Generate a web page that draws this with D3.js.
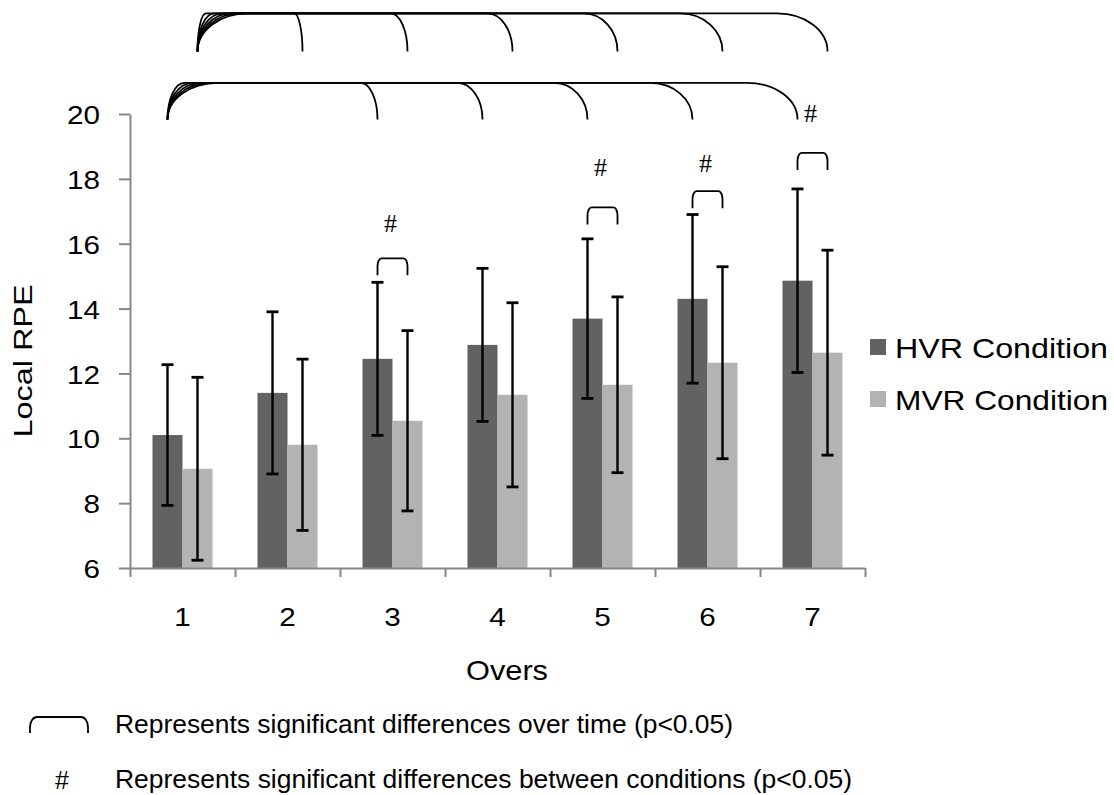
<!DOCTYPE html>
<html>
<head>
<meta charset="utf-8">
<script src="https://cdnjs.cloudflare.com/ajax/libs/d3/7.8.5/d3.min.js"></script>
<style>
    body { margin: 0; background: #fff; }
    text { font-family: 'Liberation Sans', Arial, sans-serif; fill: #000; }
</style>
</head>
<body>
<div id="chart-wrapper"></div>
<script>

// local RPE across overs, HVR vs MVR condition

var overs = ['1', '2', '3', '4', '5', '6', '7'];
var seriesNames = ['HVR Condition', 'MVR Condition'];

var hvrMean = [10.1, 11.4, 12.45, 12.88, 13.69, 14.3, 14.86];
var hvrSD   = [2.17, 2.5, 2.36, 2.36, 2.46, 2.6, 2.83];
var mvrMean = [9.06, 9.8, 10.54, 11.34, 11.65, 12.33, 12.64];
var mvrSD   = [2.82, 2.64, 2.78, 2.84, 2.71, 2.96, 3.16];

var yTicks = [6, 8, 10, 12, 14, 16, 18, 20];

// differences over time, each against over 1
var hvrTimeDiff = ['3', '4', '5', '6', '7'];
var mvrTimeDiff = ['2', '3', '4', '5', '6', '7'];
// bracket rows, in RPE units: [top, bottom]
var hvrTimeRow = [20.96, 19.83];
var mvrTimeRow = [23.1, 21.93];

// differences between conditions
var condDiff = ['3', '5', '6', '7'];
var condBracketTop = [15.55, 17.12, 17.62, 18.8];
var condHashLevel = [16.64, 18.37, 18.5, 20.02];

var noteTime = 'Represents significant differences over time (p<0.05)';
var noteCond = 'Represents significant differences between conditions (p<0.05)';

var width = 1114,
    height = 795;

var svg = d3.select('#chart-wrapper').append('svg')
    .attr('width', width)
    .attr('height', height);

var x = d3.scaleBand()
    .domain(overs)
    .range([130, 865]);

var xSub = d3.scaleBand()
    .domain(['HVR', 'MVR'])
    .range([0, x.bandwidth()])
    .paddingInner(0)
    .paddingOuter(0.75);

var y = d3.scaleLinear()
    .domain([6, 20])
    .range([568, 114]);

var color = { HVR: '#626262', MVR: '#b3b3b3' };

var rows = overs.map(function(o, i){
    return [
        { over: o, key: 'HVR', mean: hvrMean[i], sd: hvrSD[i] },
        { over: o, key: 'MVR', mean: mvrMean[i], sd: mvrSD[i] }
    ];
});
var bars = d3.merge(rows);

function cx(over, key){
    return x(over) + xSub(key) + xSub.bandwidth() / 2;
}

// bracket shape: up from bottom, across, and down again
function bracket(x0, x1, yTop, yBot, rx, ry){
    return 'M' + x0 + ',' + yBot +
        'L' + x0 + ',' + (yTop + ry) +
        'A' + rx + ',' + ry + ' 0 0 1 ' + (x0 + rx) + ',' + yTop +
        'L' + (x1 - rx) + ',' + yTop +
        'A' + rx + ',' + ry + ' 0 0 1 ' + x1 + ',' + (yTop + ry) +
        'L' + x1 + ',' + yBot;
}

// bars
svg.append('g').selectAll('rect')
    .data(bars)
    .enter()
    .append('rect')
        .attr('x', function(d){ return x(d.over) + xSub(d.key); })
        .attr('width', xSub.bandwidth())
        .attr('y', function(d){ return y(d.mean); })
        .attr('height', function(d){ return y(6) - y(d.mean); })
        .attr('fill', function(d){ return color[d.key]; });

// axes
var yAxis = svg.append('g')
    .attr('transform', 'translate(130,0)')
    .call(d3.axisLeft(y).tickValues(yTicks).tickSize(11).tickSizeOuter(0).tickPadding(19));

var xTicks = d3.scaleLinear().domain([0, overs.length]).range([130, 865]);
var xAxis = svg.append('g')
    .attr('transform', 'translate(0,568)')
    .call(d3.axisBottom(xTicks).tickValues(d3.range(overs.length + 1)).tickFormat('').tickSize(9).tickSizeOuter(0));

var xLabels = svg.append('g')
    .attr('transform', 'translate(0,568)')
    .call(d3.axisBottom(x).tickSize(0).tickPadding(0));
xLabels.select('.domain').remove();
xLabels.selectAll('text')
    .attr('y', 58)
    .attr('dy', 0);

svg.selectAll('.domain, .tick line')
    .attr('stroke', '#878787')
    .attr('stroke-width', 2);

svg.selectAll('.tick text')
    .style('font-family', "'Liberation Sans', Arial, sans-serif")
    .style('font-size', '26px')
    .attr('fill', '#000')
    .attr('textLength', function(){ return this.textContent.length * 16.5; })
    .attr('lengthAdjust', 'spacingAndGlyphs');
yAxis.selectAll('text').attr('dy', '0.37em');

// error bars
var err = svg.append('g').selectAll('g')
    .data(bars)
    .enter()
    .append('g')
        .attr('stroke', '#000')
        .attr('stroke-width', 2.4);

err.append('line')
    .attr('x1', function(d){ return cx(d.over, d.key); })
    .attr('x2', function(d){ return cx(d.over, d.key); })
    .attr('y1', function(d){ return y(d.mean + d.sd); })
    .attr('y2', function(d){ return y(d.mean - d.sd); });

err.selectAll('line.cap')
    .data(function(d){ return [d.mean + d.sd, d.mean - d.sd].map(function(v){ return { d: d, v: v }; }); })
    .enter()
    .append('line')
        .attr('class', 'cap')
        .attr('x1', function(c){ return cx(c.d.over, c.d.key) - 6; })
        .attr('x2', function(c){ return cx(c.d.over, c.d.key) + 6; })
        .attr('y1', function(c){ return y(c.v); })
        .attr('y2', function(c){ return y(c.v); })
        .attr('stroke-width', 2.8);

// time brackets
var brackets = svg.append('g')
    .attr('fill', 'none')
    .attr('stroke', '#000')
    .attr('stroke-width', 1.8);

function timeRow(list, key, row){
    var x0 = cx(overs[0], key),
        yTop = y(row[0]),
        yBot = y(row[1]);
    brackets.selectAll(null)
        .data(list)
        .enter()
        .append('path')
            .attr('d', function(o){
                var x1 = cx(o, key),
                    rx = (x1 - x0) * 0.08;
                return bracket(x0, x1, yTop, yBot, rx, yBot - yTop);
            });
}
timeRow(mvrTimeDiff, 'MVR', mvrTimeRow);
timeRow(hvrTimeDiff, 'HVR', hvrTimeRow);

// condition brackets and hashes
brackets.selectAll(null)
    .data(condDiff)
    .enter()
    .append('path')
        .attr('d', function(o, i){
            var top = y(condBracketTop[i]);
            return bracket(cx(o, 'HVR'), cx(o, 'MVR'), top, top + 17, 4, 8);
        });

svg.append('g').selectAll('text')
    .data(condDiff)
    .enter()
    .append('text')
        .attr('x', function(o){ return x(o) + x.bandwidth() / 2 - 2; })
        .attr('y', function(o, i){ return y(condHashLevel[i]); })
        .attr('dy', '0.35em')
        .attr('text-anchor', 'middle')
        .style('font-family', "'Liberation Serif', 'Times New Roman', serif")
        .style('font-size', '26px')
        .text('#');

// axis titles
svg.append('text')
    .attr('x', 507)
    .attr('y', 680)
    .attr('text-anchor', 'middle')
    .attr('textLength', 82)
    .attr('lengthAdjust', 'spacingAndGlyphs')
    .style('font-size', '28px')
    .text('Overs');

svg.append('text')
    .attr('transform', 'translate(32,361) rotate(-90)')
    .attr('text-anchor', 'middle')
    .attr('textLength', 153)
    .attr('lengthAdjust', 'spacingAndGlyphs')
    .style('font-size', '26px')
    .text('Local RPE');

// legend
var legend = svg.append('g').selectAll('g')
    .data(seriesNames)
    .enter()
    .append('g')
        .attr('transform', function(d, i){ return 'translate(870,' + (339 + i * 52) + ')'; });

legend.append('rect')
    .attr('width', 16)
    .attr('height', 16)
    .attr('fill', function(d, i){ return i ? color.MVR : color.HVR; });

legend.append('text')
    .attr('x', 25)
    .attr('y', 19)
    .attr('textLength', 213)
    .attr('lengthAdjust', 'spacingAndGlyphs')
    .style('font-size', '28px')
    .text(function(d){ return d; });

// notes under the chart
svg.append('path')
    .attr('d', bracket(30, 88, 717, 733, 7, 10))
    .attr('fill', 'none')
    .attr('stroke', '#000')
    .attr('stroke-width', 1.8);

svg.append('text')
    .attr('x', 62)
    .attr('y', 789)
    .attr('text-anchor', 'middle')
    .style('font-size', '25px')
    .text('#');

svg.append('g').selectAll('text')
    .data([noteTime, noteCond])
    .enter()
    .append('text')
        .attr('x', 115)
        .attr('y', function(d, i){ return 733 + i * 55; })
        .attr('textLength', function(d, i){ return i ? 737 : 618; })
        .attr('lengthAdjust', 'spacingAndGlyphs')
        .style('font-size', '26px')
        .text(function(d){ return d; });

</script>
</body>
</html>
